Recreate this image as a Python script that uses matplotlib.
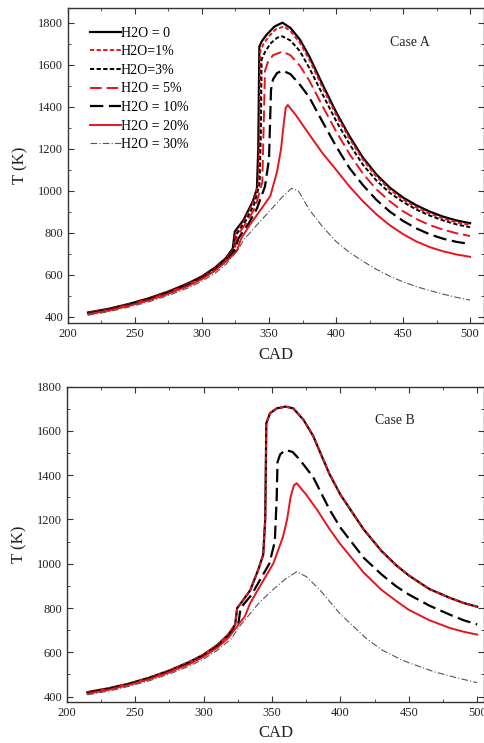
import numpy as np
import matplotlib
matplotlib.use('Agg')
import matplotlib.pyplot as plt
from matplotlib.ticker import MultipleLocator

plt.rcParams['font.family'] = ['Liberation Serif', 'DejaVu Serif']

# ---- Case A data (CAD, T) ----
a0_x = [215, 230, 245, 260, 275, 290, 300, 310, 318, 323, 324.5, 326, 331, 338, 341, 342, 342.8, 344.5, 348, 354, 360, 366, 373, 380, 390, 400, 410, 420, 430, 440, 450, 460, 470, 480, 490, 500]
a0_y = [420, 437, 460, 487, 520, 560, 592, 635, 680, 725, 805, 818, 860, 950, 1010, 1200, 1686, 1710, 1741, 1781, 1800, 1775, 1720, 1640, 1505, 1375, 1260, 1158, 1078, 1015, 967, 930, 900, 876, 858, 845]

a1_x = [215, 230, 245, 260, 275, 290, 300, 310, 318, 323.5, 325, 327, 332, 339, 342, 343, 343.5, 346, 350, 355, 361, 366, 373, 380, 390, 400, 410, 420, 430, 440, 450, 460, 470, 480, 490, 500]
a1_y = [418, 435, 458, 485, 518, 558, 590, 632, 677, 722, 798, 815, 860, 955, 1030, 1250, 1665, 1700, 1735, 1768, 1782, 1760, 1705, 1625, 1490, 1362, 1248, 1148, 1068, 1006, 958, 920, 891, 867, 849, 837]

a3_x = [215, 230, 245, 260, 275, 290, 300, 310, 318, 324, 325.5, 327.5, 333, 339, 343, 344, 344.5, 347, 351, 356, 360, 366, 373, 380, 390, 400, 410, 420, 430, 440, 450, 460, 470, 480, 490, 500]
a3_y = [417, 434, 457, 484, 516, 556, 588, 630, 675, 720, 790, 808, 860, 935, 1030, 1300, 1625, 1660, 1700, 1728, 1735, 1715, 1665, 1585, 1458, 1333, 1222, 1124, 1049, 990, 946, 910, 881, 858, 839, 826]

a5_x = [215, 230, 245, 260, 275, 290, 300, 310, 318, 324.5, 326, 328, 334, 340, 345, 346, 347, 349, 353, 360, 366, 373, 380, 390, 400, 410, 420, 430, 440, 450, 460, 470, 480, 490, 500]
a5_y = [416, 433, 456, 482, 514, 554, 586, 628, 672, 718, 782, 800, 855, 925, 1040, 1300, 1570, 1610, 1645, 1662, 1645, 1595, 1525, 1402, 1283, 1175, 1082, 1007, 950, 902, 865, 836, 814, 797, 784]

a10_x = [215, 230, 245, 260, 275, 290, 300, 310, 318, 325, 327, 329, 335, 341, 347, 350, 351.5, 353, 356, 360, 366, 373, 380, 390, 400, 410, 420, 430, 440, 450, 460, 470, 480, 490, 500]
a10_y = [414, 431, 454, 480, 512, 551, 583, 624, 668, 715, 770, 790, 845, 915, 1020, 1150, 1480, 1530, 1560, 1572, 1555, 1505, 1445, 1327, 1212, 1108, 1027, 957, 901, 856, 820, 792, 771, 756, 746]

a20_x = [215, 230, 245, 260, 275, 290, 300, 310, 318, 326, 328.5, 330, 336, 345, 351, 356, 359, 361, 362.5, 364, 370, 380, 390, 400, 410, 420, 430, 440, 450, 460, 470, 480, 490, 500]
a20_y = [412, 429, 451, 477, 509, 547, 579, 620, 663, 712, 760, 780, 840, 920, 975, 1090, 1200, 1320, 1395, 1408, 1360, 1268, 1178, 1100, 1020, 950, 888, 836, 793, 758, 731, 711, 696, 685]

a30_x = [215, 230, 245, 260, 275, 290, 300, 310, 318, 323, 327, 331, 340, 350, 360, 367, 372, 380, 390, 400, 410, 420, 430, 440, 450, 460, 470, 480, 490, 500]
a30_y = [407, 423, 445, 470, 501, 538, 569, 608, 650, 690, 720, 765, 830, 900, 970, 1012, 998, 910, 828, 758, 706, 664, 626, 593, 566, 543, 524, 507, 492, 479]

# ---- Case B data ----
b0_x = [215, 230, 245, 260, 275, 290, 300, 310, 318, 323, 324.5, 327, 334, 340, 343.5, 345, 345.8, 348.5, 353.5, 360, 365.5, 373, 380, 392, 400, 417, 430, 441, 450, 465, 480, 490, 500]
b0_y = [420, 437, 458, 485, 518, 558, 590, 633, 680, 725, 800, 820, 880, 975, 1040, 1200, 1635, 1680, 1702, 1710, 1702, 1650, 1578, 1405, 1312, 1155, 1058, 992, 947, 886, 846, 823, 806]

b10_x = [215, 230, 245, 260, 275, 290, 300, 310, 318, 325.5, 327, 335, 341, 348, 352, 353.4, 354, 356, 360, 365, 370, 380, 392, 400, 417, 430, 441, 450, 465, 480, 490, 500]
b10_y = [416, 433, 455, 481, 513, 552, 584, 626, 671, 735, 800, 860, 925, 1000, 1100, 1300, 1460, 1495, 1514, 1505, 1472, 1392, 1245, 1163, 1027, 952, 897, 861, 811, 770, 745, 726]

b20_x = [215, 230, 245, 260, 275, 290, 300, 310, 318, 326, 330, 334, 341, 351, 358, 361, 363.5, 366, 368, 375, 383, 392, 400, 417, 430, 441, 450, 465, 480, 490, 500]
b20_y = [413, 430, 452, 478, 510, 548, 580, 621, 665, 730, 761, 822, 897, 1002, 1122, 1200, 1300, 1355, 1364, 1312, 1243, 1157, 1088, 960, 882, 831, 792, 745, 710, 693, 680]

b30_x = [215, 230, 245, 260, 275, 290, 300, 310, 320, 326, 332, 340, 350, 360, 368, 375, 385, 400, 419, 430, 444, 450, 468, 485, 500]
b30_y = [408, 424, 446, 471, 502, 539, 570, 609, 660, 715, 760, 820, 880, 932, 964, 942, 882, 772, 662, 612, 568, 553, 513, 485, 463]

labels = ['H2O = 0', 'H2O=1%', 'H2O=3%', 'H2O = 5%', 'H2O = 10%', 'H2O = 20%', 'H2O = 30%']

# line styles for each water fraction
styles = [
    dict(color='black', lw=1.6, ls='-'),
    dict(color='#e8141c', lw=1.4, ls=(0, (2.2, 1.2))),
    dict(color='black', lw=1.4, ls=(0, (2.2, 1.2))),
    dict(color='#e8141c', lw=1.4, ls=(0, (6, 2.5))),
    dict(color='black', lw=1.6, ls=(0, (6, 2.5))),
    dict(color='#e8141c', lw=1.4, ls='-'),
    dict(color='#555555', lw=0.8, ls=(0, (6, 2, 1, 2))),
]

fig = plt.figure(figsize=(4.85, 7.43), dpi=100)
axA = fig.add_axes([0.140, 0.5653, 0.858, 0.424])
axB = fig.add_axes([0.138, 0.0556, 0.860, 0.424])

caseA = [(a0_x, a0_y), (a1_x, a1_y), (a3_x, a3_y), (a5_x, a5_y), (a10_x, a10_y), (a20_x, a20_y), (a30_x, a30_y)]
for (x, y), st, lab in zip(caseA, styles, labels):
    axA.plot(x, y, label=lab, **st)

# case B: 0 and 1% lie on top of each other
caseB = [(b0_x, b0_y, 0), (b0_x, b0_y, 1), (b10_x, b10_y, 4), (b20_x, b20_y, 5), (b30_x, b30_y, 6)]
for x, y, k in caseB:
    axB.plot(x, y, **styles[k])

txtc = '#222222'
for ax in [axA, axB]:
    ax.xaxis.set_major_locator(MultipleLocator(50))
    ax.xaxis.set_minor_locator(MultipleLocator(25))
    ax.yaxis.set_major_locator(MultipleLocator(200))
    ax.yaxis.set_minor_locator(MultipleLocator(100))
    ax.tick_params(which='both', direction='in', top=True, right=True, labelsize=9, colors='#333333', labelcolor=txtc)
    ax.tick_params(which='major', length=4)
    ax.tick_params(which='minor', length=2)
    for s in ax.spines.values():
        s.set_color('#333333')
        s.set_linewidth(1.0)
    ax.set_xlabel('CAD', fontsize=12, color=txtc, labelpad=5)
    ax.set_ylabel('T (K)', fontsize=12, color=txtc, labelpad=7)

axA.set_xlim(200, 510.4)
axA.set_ylim(370, 1870)
axB.set_xlim(200, 505)
axB.set_ylim(377, 1800)

axA.text(0.774, 0.889, 'Case A', transform=axA.transAxes, fontsize=10, color=txtc, va='center')
axB.text(0.739, 0.891, 'Case B', transform=axB.transAxes, fontsize=10, color=txtc, va='center')

axA.legend(loc='upper left', bbox_to_anchor=(0.04, 0.958), frameon=False, fontsize=10,
           handlelength=2.2, handletextpad=0.0, labelspacing=0.4, borderaxespad=0)

fig.savefig('out.png', dpi=100)
